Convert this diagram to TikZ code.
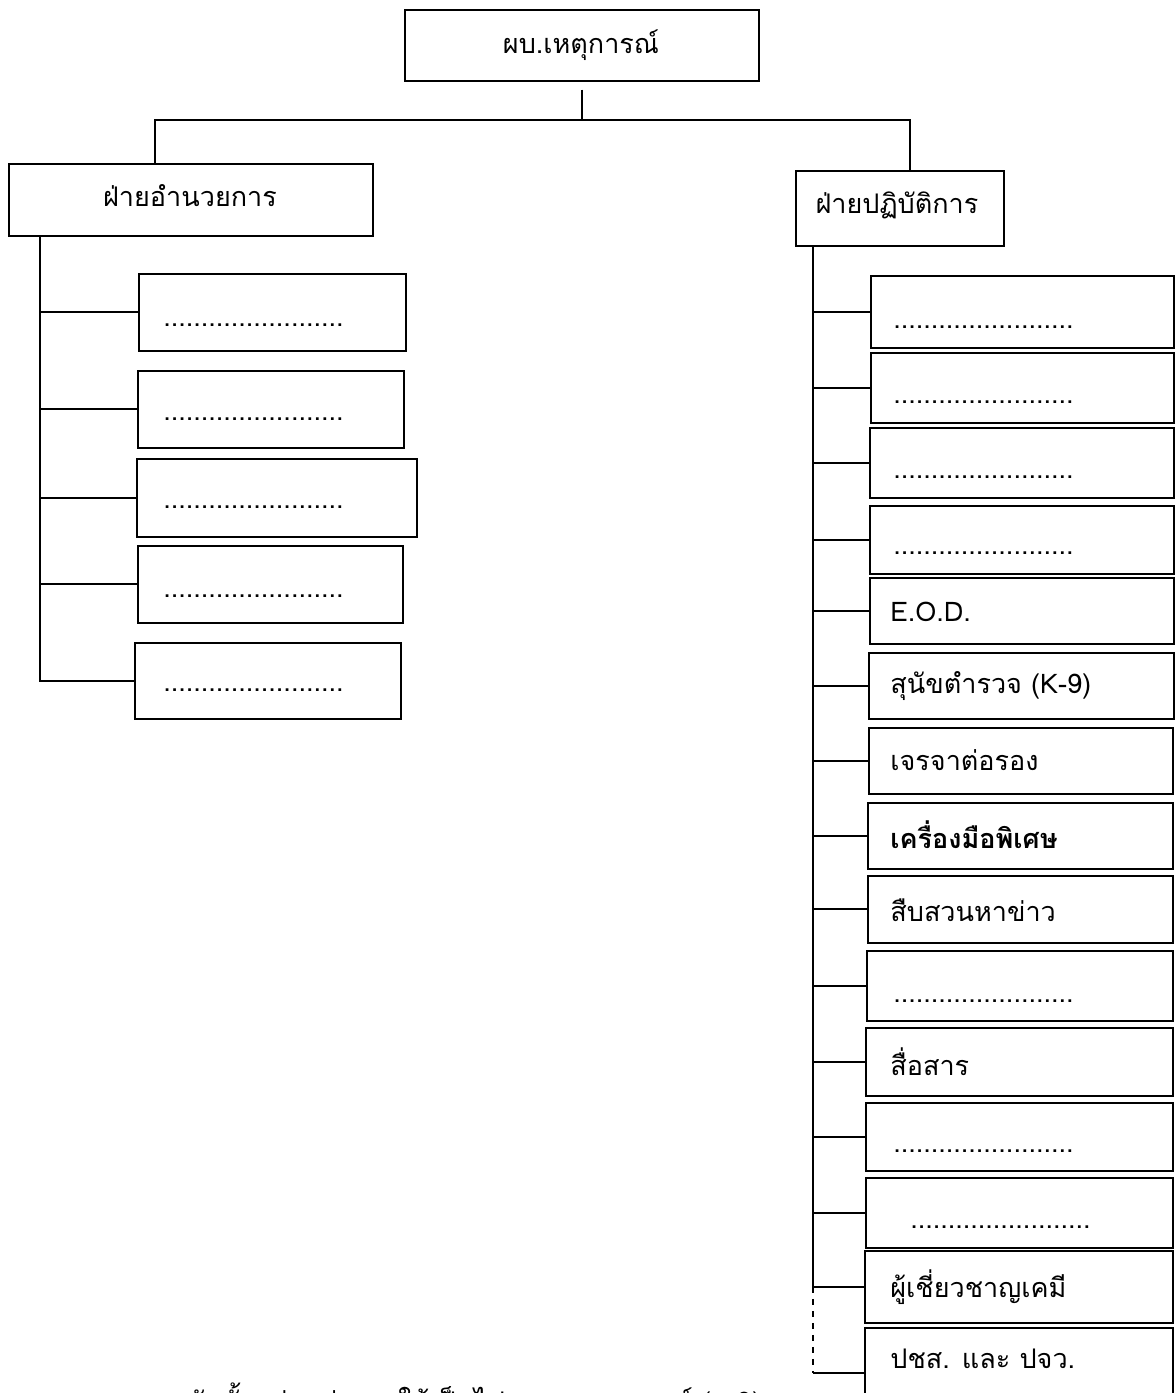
\documentclass[tikz,border=0pt]{standalone}
\usepackage{fontspec}
\newfontfamily\thai[Script=Thai]{Loma}
\begin{document}
\begin{tikzpicture}[x=0.5pt,y=-0.5pt,
  boxst/.style={draw,line width=0.8pt,rectangle,inner sep=0pt},
  lbl/.style={font=\thai\fontsize{13.5}{15}\selectfont,inner sep=0pt,anchor=west},
  bld/.style={font=\thai\fontsize{13.5}{15}\selectfont,inner sep=0pt},
  ln/.style={line width=0.9pt}]
\clip (0,0) rectangle (1175,1393);
\fill[white] (0,0) rectangle (1175,1393);
\newcommand\mybox[5]{\node[boxst,minimum width={(#4-#2)*0.5pt},minimum height={(#5-#3)*0.5pt},anchor=north west] (#1) at (#2,#3) {};}
% top
\mybox{top}{404}{9}{758}{80}
\node[bld] (topt) at (581,45) {ผบ.เหตุการณ์};
% level 1
\mybox{adm}{8}{163}{372}{235}
\node[bld] (admt) at (190,196) {ฝ่ายอำนวยการ};
\mybox{ops}{795}{170}{1003}{245}
\node[bld] (opst) at (897,205) {ฝ่ายปฏิบัติการ};
\coordinate (bl) at (155,120);
\coordinate (br) at (910,120);
\draw[ln,shorten <=4pt] (top.south) -- (top.south |- bl);
\draw[ln] (bl |- adm.north) -- (bl) -- (br) -- (br |- ops.north);
% left children
\mybox{l1}{138}{273}{405}{350}
\mybox{l2}{137}{370}{403}{447}
\mybox{l3}{136}{458}{416}{536}
\mybox{l4}{137}{545}{402}{622}
\mybox{l5}{134}{642}{400}{718}
\foreach \n/\y in {l1/325,l2/419,l3/507,l4/596,l5/690}{
  \node[lbl] (\n t) at (163,\y) {........................};
}
\coordinate (lsp) at (40,235);
\draw[ln] (lsp) |- (l5.west);
\foreach \n in {l1,l2,l3,l4}{\draw[ln] (lsp |- \n.west) -- (\n.west);}
% right children
\mybox{r1}{870}{275}{1173}{347}
\mybox{r2}{870}{352}{1173}{422}
\mybox{r3}{869}{427}{1173}{497}
\mybox{r4}{869}{505}{1173}{573}
\mybox{r5}{869}{577}{1173}{643}
\mybox{r6}{868}{652}{1173}{718}
\mybox{r7}{868}{727}{1172}{793}
\mybox{r8}{867}{802}{1172}{868}
\mybox{r9}{867}{875}{1172}{942}
\mybox{r10}{866}{950}{1172}{1020}
\mybox{r11}{865}{1027}{1172}{1095}
\mybox{r12}{865}{1102}{1172}{1170}
\mybox{r13}{865}{1177}{1172}{1247}
\mybox{r14}{864}{1250}{1172}{1322}
\mybox{r15}{864}{1327}{1172}{1410}
\foreach \n/\y in {r1/327,r2/402,r3/477,r4/553,r10/1001,r12/1151}{
  \node[lbl] (\n t) at (893,\y) {........................};
}
\node[lbl] (r13t) at (910,1227) {........................};
\node[lbl] (r5t) at (890,612) {E.O.D.};
\node[lbl] (r6t) at (890,686) {สุนัขตำรวจ (K-9)};
\node[lbl] (r7t) at (890,760) {เจรจาต่อรอง};
\node[lbl,font=\thai\bfseries\fontsize{13.5}{15}\selectfont] (r8t) at (890,835) {เครื่องมือพิเศษ};
\node[lbl] (r9t) at (890,910) {สืบสวนหาข่าว};
\node[lbl] (r11t) at (890,1062) {สื่อสาร};
\node[lbl] (r14t) at (890,1287) {ผู้เชี่ยวชาญเคมี};
\node[lbl] (r15t) at (890,1359) {ปชส. และ ปจว.};
\coordinate (rsp) at (813,245);
\draw[ln] (rsp) -- (rsp |- r14.west);
\draw[ln,dashed] (rsp |- r14.west) -- ([yshift=-2pt]rsp |- r15.west);
\draw[ln] ([yshift=-2pt]rsp |- r15.west) -- ([yshift=-2pt]r15.west);
\foreach \n in {r1,r2,r3,r4,r5,r6,r7,r8,r9,r10,r11,r12,r13,r14}{\draw[ln] (rsp |- \n.west) -- (\n.west);}
% note (cut off at the bottom edge, as in the reference)
\node[lbl] (note) at (4,1401) {หมายเหตุ\quad การจัดตั้งหน่วยต่าง ๆ ให้เป็นไปตามสถานการณ์ (ข.3)};
\end{tikzpicture}
\end{document}
